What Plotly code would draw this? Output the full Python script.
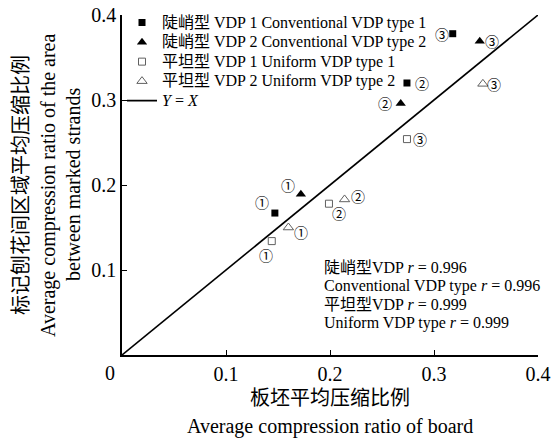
import plotly.graph_objects as go

# ---- data ----
conv1_x = [0.147, 0.274, 0.318]
conv1_y = [0.167, 0.320, 0.378]
conv2_x = [0.172, 0.268, 0.344]
conv2_y = [0.189, 0.296, 0.369]
unif1_x = [0.144, 0.199, 0.274]
unif1_y = [0.134, 0.178, 0.254]
unif2_x = [0.160, 0.214, 0.347]
unif2_y = [0.150, 0.183, 0.319]
point_labels = ["①", "②", "③"]
line_xy = [0, 0.4]
tick_vals = [0.1, 0.2, 0.3, 0.4]
tick_text = ["0.1", "0.2", "0.3", "0.4"]
names = ["陡峭型 VDP 1 Conventional VDP type 1",
         "陡峭型 VDP 2 Conventional VDP type 2",
         "平坦型 VDP 1 Uniform VDP type 1",
         "平坦型 VDP 2 Uniform VDP type 2",
         "<i>Y</i> = <i>X</i>"]
r_text = ["陡峭型VDP <i>r</i> = 0.996",
          "Conventional VDP type <i>r</i> = 0.996",
          "平坦型VDP <i>r</i> = 0.999",
          "Uniform VDP type <i>r</i> = 0.999"]
x_title = ["板坯平均压缩比例", "Average compression ratio of board"]
y_title = ["标记刨花间区域平均压缩比例", "Average compression ratio of the area",
           "between marked strands"]

FONT = "'Liberation Serif', 'Times New Roman', 'Noto Sans CJK SC', serif"
GRAY = "#606060"


def sized(txt, px):
    return '<span style="font-size:%spx">%s</span>' % (px, txt)


fig = go.Figure()
fig.add_trace(go.Scatter(x=conv1_x, y=conv1_y, mode="markers", name=sized(names[0], 16),
                         marker=dict(symbol="square", size=7, color="black")))
fig.add_trace(go.Scatter(x=conv2_x, y=conv2_y, mode="markers", name=sized(names[1], 16),
                         marker=dict(symbol="triangle-up", size=9, color="black")))
fig.add_trace(go.Scatter(x=unif1_x, y=unif1_y, mode="markers", name=sized(names[2], 16),
                         marker=dict(symbol="square-open", size=7, color=GRAY,
                                     line=dict(width=1, color=GRAY))))
fig.add_trace(go.Scatter(x=unif2_x, y=unif2_y, mode="markers", name=sized(names[3], 16),
                         marker=dict(symbol="triangle-up-open", size=9, color=GRAY,
                                     line=dict(width=1, color=GRAY))))
fig.add_trace(go.Scatter(x=line_xy, y=line_xy, mode="lines", name=sized(names[4], 16),
                         line=dict(color="black", width=1.6)))

# label offsets (pixels) for each series' points
shifts = {
    "c1": [(-13, 11), (15, 0), (-11, 0)],
    "c2": [(-13, 9), (-16, 0), (12, 0)],
    "u1": [(-6, -14), (10, -9), (13, 0)],
    "u2": [(13, -4), (13, 3), (11, 0)],
}
series = {"c1": (conv1_x, conv1_y), "c2": (conv2_x, conv2_y),
          "u1": (unif1_x, unif1_y), "u2": (unif2_x, unif2_y)}
annotations = []
for key, (xs, ys) in series.items():
    for i, (xv, yv) in enumerate(zip(xs, ys)):
        dx, dy = shifts[key][i]
        annotations.append(dict(x=xv, y=yv, xref="x", yref="y", text=point_labels[i],
                                showarrow=False, xshift=dx, yshift=dy,
                                font=dict(size=14, family="'Noto Sans CJK SC', 'DejaVu Sans'",
                                          color="black")))

# correlation text block
annotations.append(dict(x=0.48, y=0.175, xref="paper", yref="paper", xanchor="left",
                        yanchor="middle", align="left", showarrow=False,
                        text="<br>".join(sized(t, 16) for t in r_text),
                        font=dict(size=14.2, family=FONT, color="black")))
# origin label
annotations.append(dict(x=0, y=0, xref="x", yref="y", text="0", showarrow=False,
                        xshift=-12, yshift=-18, font=dict(size=20, family=FONT, color="black")))
# x-axis title lines
for txt, ys in zip(x_title, [-43, -71]):
    annotations.append(dict(x=0.5, y=0, xref="paper", yref="paper", text=txt,
                            showarrow=False, xanchor="center", yanchor="middle", yshift=ys,
                            font=dict(size=20, family=FONT, color="black")))
# y-axis title lines
for txt, xs in zip(y_title, [-101, -74, -49]):
    annotations.append(dict(x=0, y=0.5, xref="paper", yref="paper", text=txt,
                            showarrow=False, xanchor="center", yanchor="middle",
                            xshift=xs, textangle=-90,
                            font=dict(size=20, family=FONT, color="black")))

axis_style = dict(range=[0, 0.4], tickvals=tick_vals, ticktext=tick_text, automargin=False,
                  ticklabeloverflow="allow",
                  showgrid=False, zeroline=False, showline=True, linecolor="black",
                  linewidth=1.6, ticks="inside", ticklen=5, tickwidth=1.2, tickcolor="black")

fig.update_layout(
    width=552, height=439,
    margin=dict(l=122, r=14, t=15, b=84, autoexpand=False),
    paper_bgcolor="white", plot_bgcolor="white",
    font=dict(family=FONT, size=20, color="black"),
    showlegend=True,
    legend=dict(x=0.0, y=1.021, xanchor="left", yanchor="top",
                bgcolor="rgba(0,0,0,0)", font=dict(size=12.7, family=FONT),
                tracegroupgap=0, itemwidth=30),
    annotations=annotations,
    xaxis=axis_style,
    yaxis=axis_style,
)

# remove the default page margin so the figure fills the window exactly
fig.write_html("out.html", config={"displayModeBar": False},
               post_script="document.body.style.margin='0';document.body.style.overflow='hidden';")
